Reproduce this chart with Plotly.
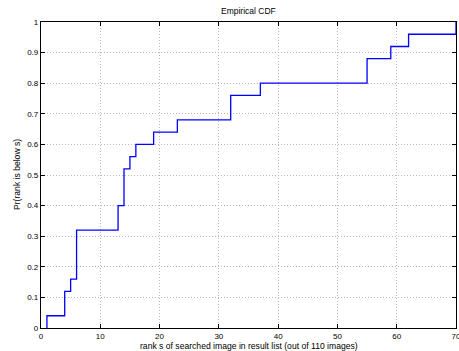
import plotly.graph_objects as go

rank_s = [1, 1, 4, 5, 6, 13, 14, 15, 16, 19, 23, 32, 37, 55, 59, 62, 70]
cdf = [0.0, 0.04, 0.12, 0.16, 0.32, 0.40, 0.52, 0.56, 0.60, 0.64, 0.68, 0.76, 0.80, 0.88, 0.92, 0.96, 1.0]
x_ticks = [0, 10, 20, 30, 40, 50, 60, 70]
y_ticks = [0, 0.1, 0.2, 0.3, 0.4, 0.5, 0.6, 0.7, 0.8, 0.9, 1]
y_tick_text = ["0", "0.1", "0.2", "0.3", "0.4", "0.5", "0.6", "0.7", "0.8", "0.9", "1"]

fig = go.Figure()
fig.add_trace(go.Scatter(x=rank_s, y=cdf, mode="lines", line_shape="hv",
                         line=dict(color="#0000ff", width=1.3), showlegend=False, hoverinfo="skip"))

FAM = "Liberation Sans, Arial, sans-serif"
fnt = dict(family=FAM, size=8, color="#000000")
tfnt = dict(family=FAM, size=8.6, color="#000000")
axis_common = dict(showline=True, linecolor="#000000", linewidth=1.2, mirror="ticks",
                   ticks="inside", ticklen=4, tickcolor="#000000", tickfont=fnt,
                   showgrid=True, gridcolor="#b8b8b8", griddash="1px,2px", gridwidth=1,
                   zeroline=False, automargin=False, ticklabeloverflow="allow")
fig.update_layout(
    width=459, height=351,
    margin=dict(l=41, r=3, t=22, b=23),
    paper_bgcolor="#ffffff", plot_bgcolor="#ffffff",
    xaxis=dict(range=[0, 70], tickvals=x_ticks, ticktext=[str(v) for v in x_ticks], **axis_common),
    yaxis=dict(range=[0, 1], tickvals=y_ticks, ticktext=y_tick_text, ticklabelstandoff=0, **axis_common),
    annotations=[
        dict(text="Empirical CDF", xref="paper", yref="paper", x=0.5, y=1.0, yshift=11,
             xanchor="center", yanchor="middle", showarrow=False,
             font=dict(family=FAM, size=8.5, color="#000000")),
        dict(text="rank s of searched image in result list (out of 110 images)",
             xref="paper", yref="paper", x=0.5, y=0, yshift=-17.5,
             xanchor="center", yanchor="middle", showarrow=False, font=tfnt),
        dict(text="Pr(rank is below s)", xref="paper", yref="paper", x=0, xshift=-24, y=0.5,
             xanchor="center", yanchor="middle", textangle=-90, showarrow=False, font=tfnt),
    ],
)
fig.write_html("out.html", config={"displayModeBar": False},
               post_script="document.body.style.margin='0';document.body.style.overflow='hidden';")
